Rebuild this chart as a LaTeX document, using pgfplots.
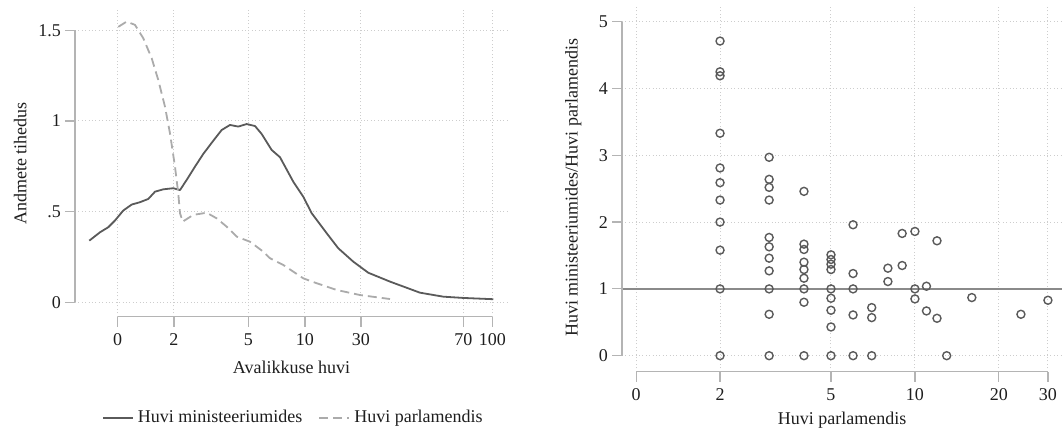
\documentclass[border=0pt]{standalone}
\usepackage{fontspec}
\setmainfont{Liberation Serif}
\usepackage{pgfplots}
\pgfplotsset{compat=1.18}

\definecolor{curvedark}{HTML}{5A5A5A}
\definecolor{curvelight}{HTML}{ABABAB}
\definecolor{axisgray}{HTML}{B4B4B4}
\definecolor{gridgray}{HTML}{CDCDCD}
\definecolor{markgray}{HTML}{5A5A5A}
\definecolor{refgray}{HTML}{8A8A8A}
\definecolor{txt}{HTML}{1E1E1E}

\pgfplotsset{
  stataframe/.style={
    scale only axis,
    clip=false,
    axis lines*=left,
    axis line style={draw=none},
    tick align=outside,
    major tick length=5pt,
    every tick/.style={axisgray, line width=0.6pt},
    grid=major,
    major grid style={gridgray, line width=0.5pt, dash pattern=on 0.5pt off 1.2pt},
    tick label style={font=\fontsize{9}{10}\selectfont, text=txt},
    yticklabel style={xshift=1.5pt},
    label style={font=\fontsize{9}{10}\selectfont, text=txt},
  },
}

% kernel density estimates
\pgfplotstableread{
x y
-0.504 0.340
-0.314 0.386
-0.167 0.414
-0.048 0.451
0.099 0.506
0.249 0.539
0.396 0.552
0.544 0.570
0.663 0.610
0.810 0.623
0.988 0.629
1.107 0.619
1.226 0.675
1.373 0.748
1.520 0.818
1.698 0.891
1.847 0.950
1.995 0.978
2.142 0.969
2.291 0.983
2.439 0.972
2.558 0.928
2.735 0.840
2.883 0.800
3.119 0.665
3.297 0.582
3.446 0.491
3.712 0.381
3.918 0.298
4.185 0.224
4.451 0.163
4.837 0.114
5.369 0.053
5.783 0.031
6.139 0.024
6.671 0.017
}\ministeeriumid

\pgfplotstableread{
x y
0.011 1.519
0.160 1.548
0.307 1.530
0.455 1.456
0.604 1.346
0.721 1.226
0.840 1.079
0.929 0.932
1.018 0.748
1.076 0.601
1.107 0.491
1.155 0.445
1.343 0.482
1.581 0.494
1.758 0.463
1.936 0.417
2.114 0.362
2.350 0.334
2.586 0.279
2.705 0.243
2.941 0.206
3.297 0.132
3.535 0.105
3.890 0.068
4.304 0.040
4.837 0.018
}\parlament

% ratio of interest by parliamentary interest
\pgfplotstableread{
x y
2 4.71
2 4.25
2 4.19
2 3.33
2 2.81
2 2.59
2 2.33
2 2.00
2 1.58
2 1.00
2 0
3 2.97
3 2.64
3 2.52
3 2.33
3 1.77
3 1.63
3 1.46
3 1.27
3 1.00
3 0.62
3 0
4 2.46
4 1.67
4 1.59
4 1.40
4 1.29
4 1.16
4 1.00
4 0.80
4 0
5 1.51
5 1.44
5 1.37
5 1.29
5 1.00
5 0.86
5 0.68
5 0.43
5 0
6 1.96
6 1.23
6 1.00
6 0.61
6 0
7 0.72
7 0.57
7 0
8 1.31
8 1.11
9 1.83
9 1.35
10 1.86
10 1.00
10 0.85
11 1.04
11 0.67
12 1.72
12 0.56
13 0
16 0.87
24 0.62
30 0.83
}\suhe

\begin{document}
\begin{tikzpicture}
\path[use as bounding box] (0,0) rectangle (532pt,215.5pt);

% left panel: densities
\begin{axis}[stataframe,
  at={(37.5pt,57.15pt)}, anchor=south west,
  width=216pt, height=153.35pt,
  xmin=-0.758, xmax=6.915, ymin=-0.0794, ymax=1.612,
  xtick={0,1,2.320,3.327,4.321,6.139,6.654},
  xticklabels={0,2,5,10,30,70,100},
  ytick={0,0.5,1,1.5}, yticklabels={0,.5,1,1.5},
  xlabel={Avalikkuse huvi}, ylabel={Andmete tihedus},
  xlabel style={at={(axis description cs:0.501,-0.164)}, anchor=center},
  ylabel style={at={(axis description cs:-0.127,0.5)}, anchor=center},
  legend style={at={(axis description cs:0.508,-0.330)}, anchor=center,
    draw=none, fill=none, font=\fontsize{9}{10}\selectfont, text=txt,
    legend columns=2, /tikz/every even column/.append style={column sep=6pt}},
  legend image code/.code={\draw[#1] (0pt,0pt) -- (15pt,0pt);},
]
\addplot[curvedark, line width=0.9pt, line join=round] table[x=x,y=y]{\ministeeriumid};
\addlegendentry{Huvi ministeeriumides}
\addplot[curvelight, line width=0.9pt, dash pattern=on 4.5pt off 2.5pt] table[x=x,y=y]{\parlament};
\addlegendentry{Huvi parlamendis}
\draw[axisgray, line width=0.6pt] (axis cs:0,-0.0794) -- (axis cs:6.654,-0.0794);
\draw[axisgray, line width=0.6pt] (axis cs:-0.758,0) -- (axis cs:-0.758,1.5);
\end{axis}

% right panel: scatter
\begin{axis}[stataframe,
  at={(311pt,29.65pt)}, anchor=south west,
  width=220pt, height=182.35pt,
  xmode=log, xmin=0.890, xmax=33.7, ymin=-0.2395, ymax=5.22,
  xtick={1,2,5,10,20,30}, xticklabels={0,2,5,10,20,30}, minor xtick={},
  ytick={0,1,2,3,4,5}, yticklabels={0,1,2,3,4,5},
  xlabel={Huvi parlamendis}, ylabel={Huvi ministeeriumides/Huvi parlamendis},
  xlabel style={at={(axis description cs:0.5,-0.132)}, anchor=center},
  ylabel style={at={(axis description cs:-0.111,0.504)}, anchor=center},
]
\addplot[refgray, line width=1pt] coordinates {(0.890,1) (33.7,1)};
\addplot[only marks, mark=o, mark size=2pt, mark options={draw=markgray, line width=0.7pt}] table[x=x,y=y]{\suhe};
\draw[axisgray, line width=0.6pt] (axis cs:1,-0.2395) -- (axis cs:30,-0.2395);
\draw[axisgray, line width=0.6pt] (axis cs:0.890,0) -- (axis cs:0.890,5);
\end{axis}
\end{tikzpicture}
\end{document}
